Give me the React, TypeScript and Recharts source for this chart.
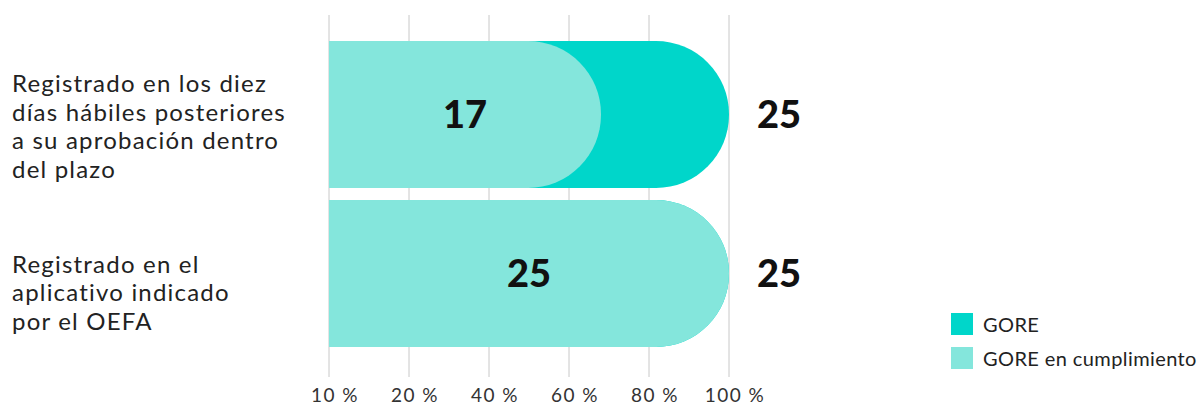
import React from "react";
import {
  BarChart,
  Bar,
  XAxis,
  YAxis,
  CartesianGrid,
  LabelList,
  Legend,
} from "recharts";

// categorías (con saltos de línea como en el original)
const categories = [
  "Registrado en los diez\ndías hábiles posteriores\na su aprobación dentro\ndel plazo",
  "Registrado en el\naplicativo indicado\npor el OEFA",
];
const goreTotal = [25, 25];
const goreCumplimiento = [17, 25];
const tickValues = [0, 5, 10, 15, 20, 25];
const tickLabels = ["10 %", "20 %", "40 %", "60 %", "80 %", "100 %"];

const DARK = "#00d6ca";
const LIGHT = "#84e6dc";
const FONT = "Lato, 'Noto Sans', sans-serif";

const chartData = categories.map((name, i) => ({
  name,
  gore: goreTotal[i],
  cumple: goreCumplimiento[i],
}));

const CategoryTick = ({ y, payload, index }: any) => {
  const lines = String(payload.value).split("\n");
  const lh = 28.5;
  const shift = index === 0 ? 12 : 19;
  const first = y - ((lines.length - 1) * lh) / 2 + 8.5 + shift;
  return (
    <text
      x={12}
      y={first}
      fill="#222"
      fontSize={24}
      fontFamily={FONT}
      letterSpacing={1.2}
    >
      {lines.map((l, i) => (
        <tspan key={i} x={12} y={first + i * lh}>
          {l}
        </tspan>
      ))}
    </text>
  );
};

const renderLegend = ({ payload }: any) => (
  <div
    style={{
      fontFamily: FONT,
      fontSize: 20,
      color: "#222",
      letterSpacing: 0.4,
      whiteSpace: "nowrap",
    }}
  >
    {(payload || []).map((p: any) => (
      <div
        key={p.value}
        style={{ display: "flex", alignItems: "center", height: 34 }}
      >
        <span
          style={{
            width: 22,
            height: 22,
            background: p.color,
            display: "inline-block",
            marginRight: 10,
            flexShrink: 0,
          }}
        />
        {p.value}
      </div>
    ))}
  </div>
);

export default function App() {
  return (
    <div style={{ position: "absolute", left: 0, top: 0 }}>
      <BarChart
        layout="vertical"
        width={1200}
        height={405}
        data={chartData}
        margin={{ top: 15, right: 471, bottom: 0, left: 11 }}
        barSize={147}
        barGap={-147}
      >
        <CartesianGrid horizontal={false} stroke="#c8c8c8" />
        <XAxis
          type="number"
          domain={[0, 25]}
          ticks={tickValues}
          interval={0}
          axisLine={false}
          tickLine={false}
          tickSize={0}
          tickMargin={12}
          height={28}
          tickFormatter={(v: number) => tickLabels[tickValues.indexOf(v)]}
          tick={{
            fill: "#333",
            fontSize: 19,
            fontFamily: FONT,
            dx: 6,
            letterSpacing: 1.5,
          }}
        />
        <YAxis
          type="category"
          dataKey="name"
          width={318}
          axisLine={false}
          tickLine={false}
          padding={{ top: 20, bottom: 24 }}
          tick={<CategoryTick />}
        />
        <Legend
          layout="vertical"
          align="center"
          verticalAlign="middle"
          content={renderLegend}
          wrapperStyle={{ left: 951, top: 307, width: 249 }}
        />
        <Bar
          dataKey="gore"
          name="GORE"
          fill={DARK}
          radius={[0, 73, 73, 0]}
          isAnimationActive={false}
        >
          <LabelList
            dataKey="gore"
            position="right"
            offset={28}
            style={{ fontSize: 38, fontWeight: 900, fontFamily: FONT, fill: "#111" }}
          />
        </Bar>
        <Bar
          dataKey="cumple"
          name="GORE en cumplimiento"
          fill={LIGHT}
          radius={[0, 73, 73, 0]}
          isAnimationActive={false}
        >
          <LabelList
            dataKey="cumple"
            position="center"
            style={{ fontSize: 38, fontWeight: 900, fontFamily: FONT, fill: "#111" }}
          />
        </Bar>
      </BarChart>
    </div>
  );
}
